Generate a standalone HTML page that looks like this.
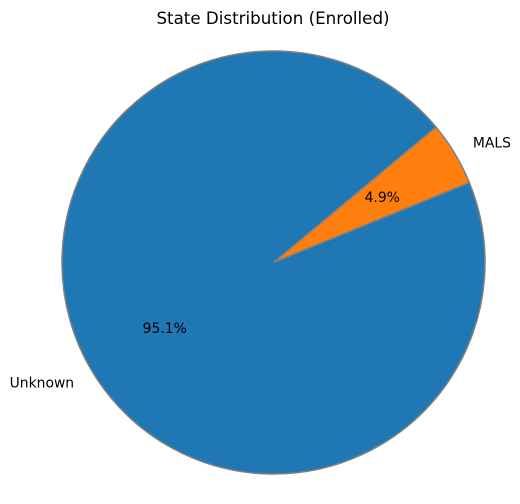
<!DOCTYPE html>
<html><head><meta charset="utf-8"><style>
html,body{margin:0;padding:0;background:#fff;}
svg{display:block;font-family:"DejaVu Sans","Liberation Sans",sans-serif;}
</style></head><body>
<svg id="chart" width="520" height="504" viewBox="0 0 520 504">
<text x="273" y="24" text-anchor="middle" font-size="16.7">State Distribution (Enrolled)</text>
<g id="slices"></g>
</svg>
<script>
const categories = ["MALS", "Unknown"];
const values = [4.9, 95.1];
const pctLabels = ["4.9%", "95.1%"];
const colors = ["#ff7f0e", "#1f77b4"];
const cx = 273.5, cy = 262.5, r = 211.5, startAngle = 22.2;
const ns = "http://www.w3.org/2000/svg";
const g = document.getElementById('slices');
const total = values.reduce((a,b)=>a+b,0);
function pt(deg, rr){const a=deg*Math.PI/180;return [cx+rr*Math.cos(a), cy-rr*Math.sin(a)];}
let ang = startAngle;
values.forEach((v,i)=>{
  const span = v/total*360;
  const a0 = ang, a1 = ang+span;
  const p0 = pt(a0,r), p1 = pt(a1,r);
  const large = span>180?1:0;
  const path = document.createElementNS(ns,'path');
  path.setAttribute('d',`M${cx},${cy} L${p0[0]},${p0[1]} A${r},${r} 0 ${large} 0 ${p1[0]},${p1[1]} Z`);
  path.setAttribute('fill',colors[i]);
  path.setAttribute('stroke','#808080');
  path.setAttribute('stroke-width','1.5');
  
  
  g.appendChild(path);
  const mid = (a0+a1)/2;
  const lp = pt(mid, r*1.1);
  const cosm = Math.cos(mid*Math.PI/180);
  const t = document.createElementNS(ns,'text');
  t.setAttribute('x',lp[0]); t.setAttribute('y',lp[1]+5);
  t.setAttribute('font-size','13.9');
  t.setAttribute('text-anchor', cosm>0?'start':'end');
  t.textContent = categories[i];
  
  
  g.appendChild(t);
  const pp = pt(mid, r*0.6);
  const tp = document.createElementNS(ns,'text');
  tp.setAttribute('x',pp[0]); tp.setAttribute('y',pp[1]+5);
  tp.setAttribute('font-size','13.9');
  tp.setAttribute('text-anchor','middle');
  tp.textContent = pctLabels[i];
  
  
  g.appendChild(tp);
  ang = a1;
});
</script>
</body></html>
